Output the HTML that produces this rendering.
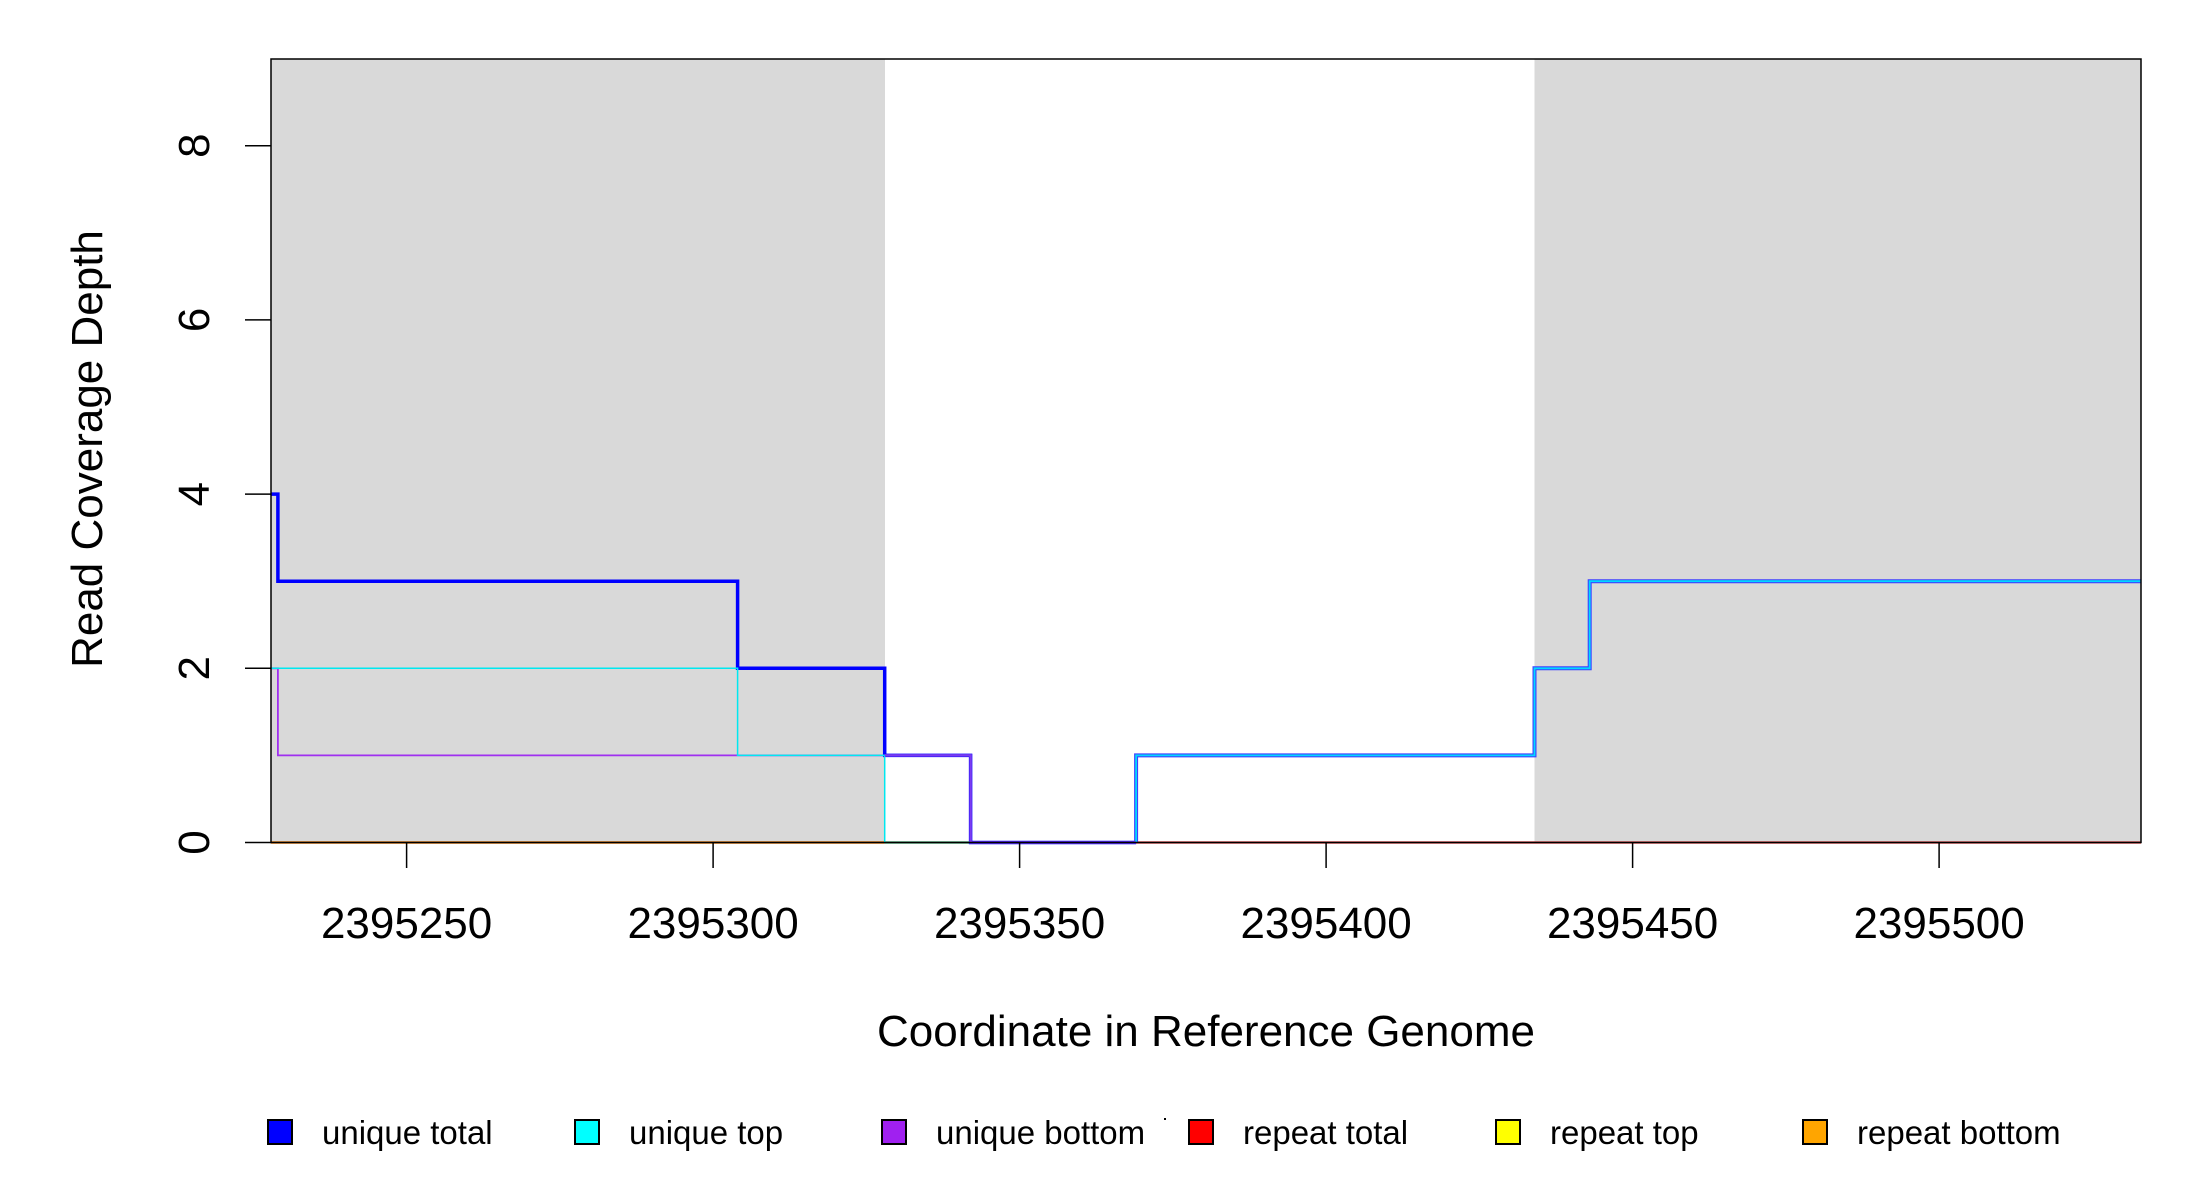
<!DOCTYPE html>
<html><head><meta charset="utf-8"><style>
html,body{margin:0;padding:0;background:#fff;}
svg{display:block;}
text{font-family:"Liberation Sans",sans-serif;fill:#000;}
</style></head><body>
<svg width="2200" height="1200" viewBox="0 0 2200 1200" xmlns="http://www.w3.org/2000/svg">
<rect x="0" y="0" width="2200" height="1200" fill="#fff"/>
<rect x="271" y="59" width="614" height="783.5" fill="#d9d9d9"/>
<rect x="1534.5" y="59" width="606.5" height="783.5" fill="#d9d9d9"/>
<line x1="271" y1="842.5" x2="885" y2="842.5" stroke="#e07000" stroke-width="2.5"/>
<line x1="885" y1="842.5" x2="970.6" y2="842.5" stroke="#6a9a50" stroke-width="2.5"/>
<line x1="1136" y1="842.5" x2="2141" y2="842.5" stroke="#e05050" stroke-width="2.5"/>
<polyline fill="none" stroke="#0000ff" stroke-width="3.5" points="271,494.1 277.9,494.1 277.9,581.2 737.6,581.2 737.6,668.3 884.7,668.3 884.7,755.4 970.6,755.4 970.6,842.5 1136.1,842.5"/>
<polyline fill="none" stroke="#4040ff" stroke-width="4" points="1136.1,842.5 1136.1,755.4 1534.5,755.4 1534.5,668.3 1589.7,668.3 1589.7,581.2 2141,581.2"/>
<polyline fill="none" stroke="#a030f0" stroke-width="1.8" points="271,668.3 277.9,668.3 277.9,755.4 970.6,755.4 970.6,842.5 1136.1,842.5"/>
<polyline fill="none" stroke="#00e8f0" stroke-width="1.5" points="271,668.3 737.6,668.3 737.6,755.4 884.7,755.4 884.7,842.5 1136.1,842.5"/>
<polyline fill="none" stroke="#00d8ff" stroke-width="1.8" points="1136.1,842.5 1136.1,755.4 1534.5,755.4 1534.5,668.3 1589.7,668.3 1589.7,581.2 2141,581.2"/>
<polyline fill="none" stroke="#7a3cf0" stroke-width="2.5" points="884.7,755.4 970.6,755.4 970.6,842.5 1136.1,842.5"/>
<rect x="271" y="59" width="1870" height="783.5" fill="none" stroke="#000" stroke-width="1.5"/>
<g stroke="#000" stroke-width="1.5">
<line x1="245" y1="842.5" x2="271" y2="842.5"/>
<line x1="245" y1="668.3" x2="271" y2="668.3"/>
<line x1="245" y1="494.1" x2="271" y2="494.1"/>
<line x1="245" y1="319.9" x2="271" y2="319.9"/>
<line x1="245" y1="145.7" x2="271" y2="145.7"/>
</g>
<g font-size="44" text-anchor="middle">
<text transform="translate(209,842.5) rotate(-90)">0</text>
<text transform="translate(209,668.3) rotate(-90)">2</text>
<text transform="translate(209,494.1) rotate(-90)">4</text>
<text transform="translate(209,319.9) rotate(-90)">6</text>
<text transform="translate(209,145.7) rotate(-90)">8</text>
</g>
<g stroke="#000" stroke-width="1.5">
<line x1="406.6" y1="842.5" x2="406.6" y2="868"/>
<line x1="713.1" y1="842.5" x2="713.1" y2="868"/>
<line x1="1019.6" y1="842.5" x2="1019.6" y2="868"/>
<line x1="1326.1" y1="842.5" x2="1326.1" y2="868"/>
<line x1="1632.6" y1="842.5" x2="1632.6" y2="868"/>
<line x1="1939.1" y1="842.5" x2="1939.1" y2="868"/>
</g>
<g font-size="44" text-anchor="middle">
<text x="406.6" y="938">2395250</text>
<text x="713.1" y="938">2395300</text>
<text x="1019.6" y="938">2395350</text>
<text x="1326.1" y="938">2395400</text>
<text x="1632.6" y="938">2395450</text>
<text x="1939.1" y="938">2395500</text>
</g>
<text x="1206" y="1046" font-size="44" text-anchor="middle">Coordinate in Reference Genome</text>
<text transform="translate(102,449) rotate(-90)" font-size="44" text-anchor="middle">Read Coverage Depth</text>
<g stroke="#000" stroke-width="2">
<rect x="268" y="1120" width="24" height="24" fill="#0000ff"/>
<rect x="575" y="1120" width="24" height="24" fill="#00ffff"/>
<rect x="882" y="1120" width="24" height="24" fill="#a020f0"/>
<rect x="1189" y="1120" width="24" height="24" fill="#ff0000"/>
<rect x="1496" y="1120" width="24" height="24" fill="#ffff00"/>
<rect x="1803" y="1120" width="24" height="24" fill="#ffa500"/>
</g>
<g font-size="33">
<text x="322" y="1144">unique total</text>
<text x="629" y="1144">unique top</text>
<text x="936" y="1144">unique bottom</text>
<text x="1243" y="1144">repeat total</text>
<text x="1550" y="1144">repeat top</text>
<text x="1857" y="1144">repeat bottom</text>
</g>
<rect x="1164" y="1118" width="2" height="2" fill="#000"/>
</svg>
</body></html>
